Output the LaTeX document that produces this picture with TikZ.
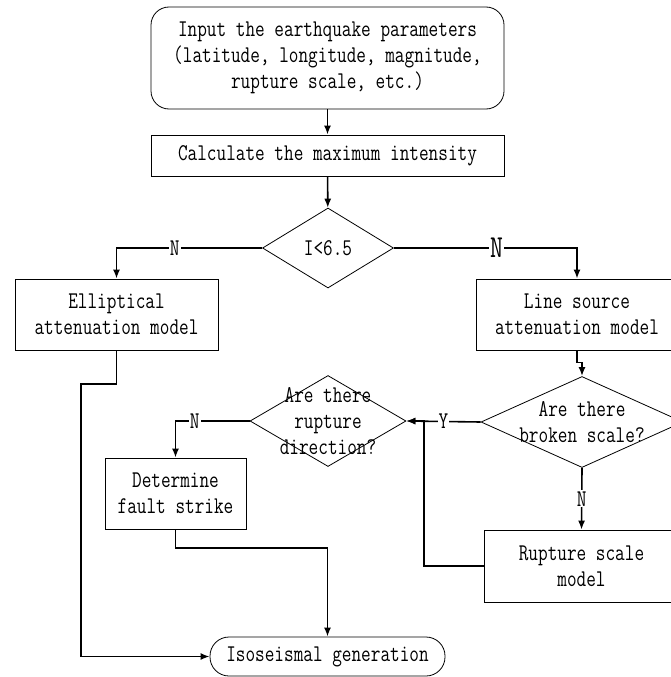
\documentclass[tikz,border=0pt]{standalone}
\usepackage{fontspec}
\usepackage{tikz}
\usetikzlibrary{shapes,arrows.meta,positioning,calc}
\newfontfamily\chartfont{Latin Modern Mono}[FakeStretch=0.78]

\tikzset{
  every node/.style={font=\chartfont\fontsize{24}{26}\selectfont},
  stepbox/.style={draw, line width=0.8pt, inner sep=0pt, align=center},
  roundbox/.style={stepbox, rounded corners=18pt},
  decision/.style={draw, diamond, line width=0.8pt, inner sep=0pt},
  conn/.style={line width=1.6pt, >={Latex[length=9pt,width=7pt]}},
  lbl/.style={fill=white, inner sep=1pt}
}

\begin{document}
\begin{tikzpicture}[x=1pt,y=-1pt]

      \clip (0,0) rectangle (671,677);

      % draw the boxes
      \node[roundbox, minimum width=353, minimum height=102] (input) at (327.5,58)
        {Input the earthquake parameters\\(latitude, longitude, magnitude,\\rupture scale, etc.)};
      \node[stepbox, minimum width=353, minimum height=41] (calc) at (327.5,155.5)
        {Calculate the maximum intensity};
      \node[decision, minimum width=131, minimum height=80] (imax) at (328,248) {I<6.5};
      \node[stepbox, minimum width=203, minimum height=71] (ellip) at (116.5,314.5)
        {Elliptical\\attenuation model};
      \node[stepbox, minimum width=202, minimum height=71] (lsrc) at (577,314.5)
        {Line source\\attenuation model};
      \node[decision, minimum width=202, minimum height=91] (broken) at (582,422) {};
      \node[align=center] (brokentxt) at (broken) {Are there\\broken scale?};
      \node[decision, minimum width=156, minimum height=91] (rdir) at (328,421) {};
      \node[align=center] (rdirtxt) at (rdir) {Are there\\rupture\\direction?};
      \node[stepbox, minimum width=141, minimum height=71] (fault) at (175.5,493.5)
        {Determine\\fault strike};
      \node[stepbox, minimum width=195, minimum height=72] (rscale) at (581.5,566)
        {Rupture scale\\model};
      \node[roundbox, rounded corners=19pt, minimum width=235, minimum height=39] (iso) at (327.5,656.5)
        {Isoseismal generation};

      % bends of the connectors
      \coordinate (ebend) at (81,384);
      \coordinate (fbend) at (175.5,548);
      \coordinate (rbend) at (424,421);

      % draw the connectors
      \draw[conn,->] (input) -- (calc);
      \draw[conn,->] (calc) -- (imax);
      \draw[conn,->] (imax.west) -| node[lbl, pos=0.3] {N} (ellip.north);
      \draw[conn,->] (imax.east) -| node[lbl, pos=0.28, font=\chartfont\fontsize{32}{32}\selectfont] {N} (lsrc.north);
      \draw[conn,->] (lsrc.south) -- ++(0,12) -| (broken.north);
      \draw[conn,->] (broken.west) -- node[lbl] {Y} (rdir.east);
      \draw[conn,->] (rdir.west) -| node[lbl, pos=0.37] {N} (fault.north);
      \draw[conn,->] (broken.south) -- node[lbl] {N} (rscale.north);
      \draw[conn,->] (rscale.west) -| (rbend) -- (rdir.east);
      \draw[conn,->] (ellip.south) |- (ebend) |- (iso.west);
      \draw[conn,->] (fault.south) -- (fbend) -| (iso.north);

    \end{tikzpicture}
\end{document}
